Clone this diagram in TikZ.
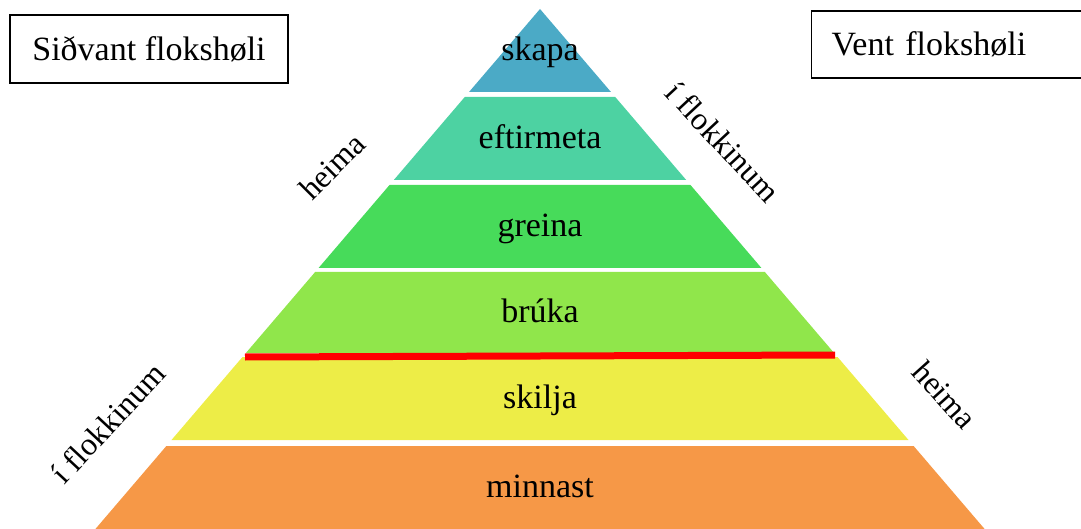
\documentclass[tikz,border=0pt]{standalone}
\usepackage{fontspec}
\setmainfont{Liberation Serif}
\usetikzlibrary{positioning}
\definecolor{cSkapa}{HTML}{4BAAC6}
\definecolor{cEftir}{HTML}{4DD2A2}
\definecolor{cGreina}{HTML}{47DB5A}
\definecolor{cBruka}{HTML}{90E64B}
\definecolor{cSkilja}{HTML}{EDED47}
\definecolor{cMinnast}{HTML}{F69847}
\tikzstyle{Box}=[draw, line width=1.3pt, rectangle, font=\fontsize{34}{38}\selectfont]
\tikzstyle{Layer}=[font=\fontsize{34}{38}\selectfont]
\tikzstyle{Side}=[font=\fontsize{32}{36}\selectfont]

\begin{document}
\begin{tikzpicture}[x=1pt, y=-1pt]
		\useasboundingbox (0,0) rectangle (1081,529);
		\clip (0,0) rectangle (1081,529);
		% pyramid layers
		\foreach \ytop/\ybot/\col/\nm/\word in {9/92/cSkapa/skapa/skapa, 97/180/cEftir/eftirmeta/eftirmeta, 185/268/cGreina/greina/greina, 272/353/cBruka/bruka/brúka, 357/440/cSkilja/skilja/skilja, 446/540/cMinnast/minnast/minnast}{
			\pgfmathsetmacro{\wt}{0.855*(\ytop-9)}
			\pgfmathsetmacro{\wb}{0.855*(\ybot-9)}
			\pgfmathsetmacro{\ymid}{(\ytop+min(\ybot,529))/2+10}
			\fill[\col] (540-\wt,\ytop) -- (540+\wt,\ytop) -- (540+\wb,\ybot) -- (540-\wb,\ybot) -- cycle;
			\node[Layer, anchor=base] (\nm) at (540,\ymid) {\word};
		}
		% red line
		\coordinate (redL) at (245,357);
		\coordinate (redR) at (835,355);
		\draw[red, line width=7pt] (redL) -- (redR);
		% boxes
		\node[Box, minimum width=278pt, minimum height=68pt] (sidvant) at (149,49) {Siðvant flokshøli};
		\node[Box, anchor=west, minimum height=67pt, text width=260pt, inner xsep=20pt, align=left] (vent) at (811,44.5) {Vent flokshøli};
		% side labels
		\node[Side, rotate=45] (heimaA) at (332,166) {heima};
		\node[Side, rotate=-47] (flokkA) at (723,142) {í flokkinum};
		\node[Side, rotate=47] (flokkB) at (108,423) {í flokkinum};
		\node[Side, rotate=-48] (heimaB) at (945,395) {heima};
		\end{tikzpicture}
\end{document}
